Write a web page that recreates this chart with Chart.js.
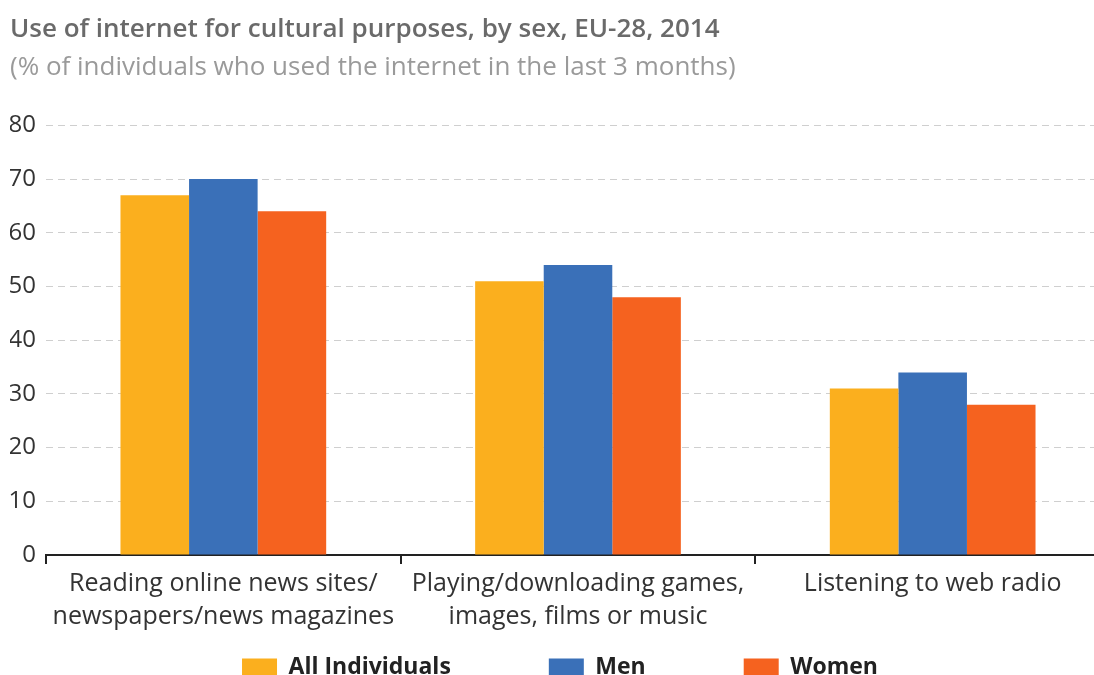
<!DOCTYPE html>
<html>
<head>
<meta charset="utf-8">
<script src="https://cdn.jsdelivr.net/npm/chart.js@4.4.1/dist/chart.umd.min.js"></script>
<style>
  html, body { margin:0; padding:0; background:#fff; overflow:hidden; }
  #wrap { width:1110px; height:675px; position:relative; }
</style>
</head>
<body>
<div id="wrap"><canvas id="c"></canvas></div>
<script>
const titleText = "Use of internet for cultural purposes, by sex, EU-28, 2014";
const subtitleText = "(% of individuals who used the internet in the last 3 months)";
const categories = [
  ["Reading online news sites/", "newspapers/news magazines"],
  ["Playing/downloading games,", "images, films or music"],
  ["Listening to web radio"]
];
const seriesNames = ["All Individuals", "Men", "Women"];
const allIndividuals = [67, 51, 31];
const men = [70, 54, 34];
const women = [64, 48, 28];
const yTicks = [0, 10, 20, 30, 40, 50, 60, 70, 80];
const colors = ["#FBAF1E", "#3A70B8", "#F5621F"];

const FONT = "'Open Sans', 'Noto Sans', sans-serif";
const LEGEND_RESERVE = 39;   // vertical space kept for legend row
const LEGEND_ITEM_TOP = 656; // top of legend row

const legendTweak = {
  id: 'legendTweak',
  beforeInit(chart) {
    const lg = chart.legend;
    const origFit = lg.fit;
    lg.fit = function () {
      origFit.call(this);
      this.height = LEGEND_RESERVE;
    };
  },
  afterLayout(chart) {
    const lg = chart.legend;
    lg.top = LEGEND_ITEM_TOP - lg.options.labels.padding;
  }
};

new Chart(document.getElementById('c'), {
  type: 'bar',
  data: {
    labels: categories,
    datasets: [allIndividuals, men, women].map((d, i) => ({
      label: seriesNames[i],
      data: d,
      backgroundColor: colors[i],
      borderWidth: 0,
      barPercentage: 1.0,
      categoryPercentage: 0.58
    }))
  },
  plugins: [legendTweak],
  options: {
    responsive: true,
    maintainAspectRatio: false,
    animation: false,
    layout: { padding: { left: 10, right: 0, top: 6, bottom: 0 } },
    plugins: {
      title: {
        display: true, text: titleText, align: 'start',
        color: '#6a6a6a', font: { family: FONT, size: 26, weight: '600', lineHeight: 1.2 },
        padding: { top: 8, bottom: 7 }
      },
      subtitle: {
        display: true, text: subtitleText, align: 'start',
        color: '#9a9a9a', font: { family: FONT, size: 26, weight: '400', lineHeight: 1.2 },
        padding: { top: 0, bottom: 42 }
      },
      legend: {
        position: 'bottom',
        labels: {
          boxWidth: 35, boxHeight: 18, padding: 98,
          color: '#222', font: { family: FONT, size: 23, weight: 'bold' }
        }
      },
      tooltip: { enabled: false }
    },
    scales: {
      x: {
        grid: { display: true, drawOnChartArea: false, drawTicks: true, tickLength: 9, color: '#222', lineWidth: 2, offset: true },
        border: { display: true, color: '#222', width: 2 },
        ticks: { color: '#333', font: { family: FONT, size: 25, lineHeight: 1.32 }, padding: 3, maxRotation: 0, autoSkip: false }
      },
      y: {
        min: 0, max: 80,
        afterBuildTicks: (ax) => { ax.ticks = yTicks.map(v => ({ value: v })); },
        afterFit: (ax) => { ax.width = 36; },
        grid: { color: '#cfcfcf', borderDash: [7, 5], drawTicks: false, lineWidth: 1 },
        border: { display: false, dash: [7, 5] },
        ticks: { color: '#333', font: { family: FONT, size: 24 }, padding: 10 }
      }
    }
  }
});
</script>
</body>
</html>
